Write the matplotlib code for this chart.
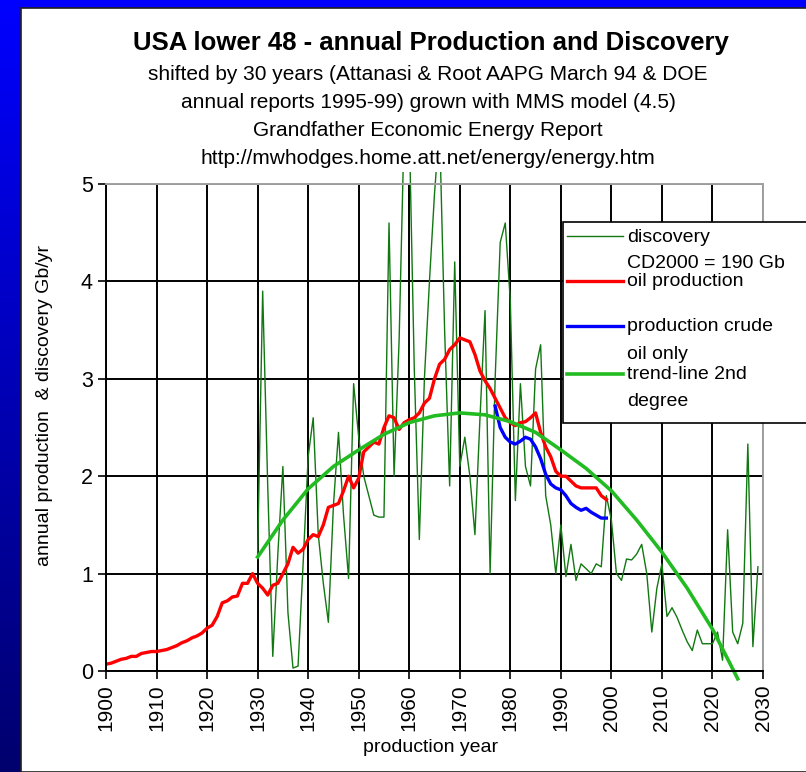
import numpy as np
import matplotlib.pyplot as plt
from matplotlib.patches import Rectangle
from matplotlib.lines import Line2D

plt.rcParams['font.family'] = ['Liberation Sans', 'DejaVu Sans']

# oil production, lower 48, Gb/yr
prod_years = np.arange(1900, 2000)
oil_production = [0.07, 0.08, 0.10, 0.12, 0.13, 0.15, 0.15, 0.18, 0.19, 0.20,
                  0.20, 0.21, 0.22, 0.24, 0.26, 0.29, 0.31, 0.34, 0.36, 0.39,
                  0.44, 0.47, 0.56, 0.70, 0.72, 0.76, 0.77, 0.90, 0.90, 1.00,
                  0.90, 0.85, 0.78, 0.88, 0.90, 1.00, 1.10, 1.27, 1.21, 1.25,
                  1.35, 1.40, 1.38, 1.50, 1.68, 1.70, 1.72, 1.85, 2.00, 1.88,
                  1.98, 2.25, 2.30, 2.35, 2.33, 2.50, 2.62, 2.60, 2.48, 2.55,
                  2.58, 2.60, 2.65, 2.75, 2.80, 3.00, 3.15, 3.20, 3.30, 3.35,
                  3.42, 3.40, 3.38, 3.25, 3.08, 2.98, 2.90, 2.80, 2.70, 2.60,
                  2.55, 2.52, 2.55, 2.56, 2.60, 2.65, 2.45, 2.30, 2.20, 2.05,
                  2.00, 2.00, 1.95, 1.90, 1.88, 1.88, 1.88, 1.88, 1.80, 1.76]

# crude oil only
crude_years = np.arange(1977, 2000)
crude_oil = [2.72, 2.50, 2.40, 2.35, 2.33, 2.36, 2.40, 2.38, 2.30, 2.18,
             2.02, 1.92, 1.88, 1.86, 1.80, 1.72, 1.68, 1.65, 1.67, 1.63,
             1.60, 1.57, 1.57]

# discovery shifted by 30 years
disc_years = np.arange(1930, 2030)
discovery = [1.20, 3.90, 1.90, 0.15, 1.20, 2.10, 0.60, 0.03, 0.05, 1.10,
             2.20, 2.60, 1.40, 0.90, 0.50, 1.70, 2.45, 1.60, 0.95, 2.95,
             2.40, 2.00, 1.80, 1.60, 1.58, 1.58, 4.60, 2.00, 3.40, 5.60,
             5.60, 3.10, 1.35, 3.00, 4.00, 4.90, 5.60, 3.50, 1.90, 4.20,
             2.10, 2.40, 2.00, 1.40, 2.60, 3.70, 1.00, 3.00, 4.40, 4.60,
             3.80, 1.75, 2.95, 2.10, 1.90, 3.10, 3.35, 1.80, 1.50, 1.00,
             1.50, 0.97, 1.30, 0.93, 1.10, 1.05, 1.00, 1.10, 1.07, 1.80,
             1.55, 1.00, 0.93, 1.15, 1.14, 1.20, 1.30, 1.00, 0.40, 0.85,
             1.10, 0.56, 0.65, 0.55, 0.42, 0.30, 0.21, 0.42, 0.28, 0.28,
             0.28, 0.40, 0.11, 1.45, 0.40, 0.28, 0.49, 2.33, 0.25, 1.07]

# 2nd degree trend-line
trend_years = [1930, 1935, 1940, 1945, 1950, 1955, 1960, 1965, 1970, 1975,
               1980, 1985, 1990, 1995, 2000, 2005, 2010, 2015, 2020, 2025]
trend = [1.17, 1.55, 1.87, 2.10, 2.27, 2.43, 2.55, 2.62, 2.65, 2.63,
         2.56, 2.45, 2.27, 2.08, 1.85, 1.55, 1.22, 0.85, 0.43, -0.08]

W, H = 806, 772


def fx(px):
    return px / W


def fy(py):
    return 1 - py / H


fig = plt.figure(figsize=(W / 100, H / 100), dpi=100)

# blue frame with white panel
bg = fig.add_axes([0, 0, 1, 1], zorder=-10)
grad = np.zeros((256, 2, 3))
grad[:, :, 2] = np.linspace(1.0, 0.43, 256)[:, None]
bg.imshow(grad, aspect='auto', extent=[0, 1, 0, 1])
bg.add_patch(Rectangle((fx(21), 0), 1, fy(8), facecolor='white',
                       edgecolor='#202020', linewidth=1.2))
bg.set_xlim(0, 1)
bg.set_ylim(0, 1)
bg.axis('off')

fig.text(fx(431), fy(43), 'USA lower 48 - annual Production and Discovery',
         ha='center', va='center', fontsize=18.5, fontweight='bold')
sub = ['shifted by 30 years (Attanasi & Root AAPG March 94 & DOE',
       'annual reports 1995-99) grown with MMS model (4.5)',
       'Grandfather Economic Energy Report',
       'http://mwhodges.home.att.net/energy/energy.htm']
for s, y in zip(sub, [75, 103, 130, 158]):
    fig.text(fx(428), fy(y), s, ha='center', va='center', fontsize=15)

ax = fig.add_axes([fx(106), fy(671), fx(763) - fx(106), fy(184) - fy(671)])
ax.set_xlim(1900, 2030)
ax.set_ylim(0, 5)
ax.set_xticks(range(1900, 2031, 10))
ax.set_yticks(range(0, 6))
ax.tick_params(axis='x', labelrotation=90, labelsize=15, length=6, width=1.2)
ax.tick_params(axis='y', labelsize=15.5, length=6, width=1.2)
ax.grid(True, color='black', linewidth=1.4)
ax.set_axisbelow(True)
for side in ['left', 'bottom']:
    ax.spines[side].set_linewidth(1.4)
for side in ['top', 'right']:
    ax.spines[side].set_color('#a0a0a0')
    ax.spines[side].set_linewidth(1.4)

clip = Rectangle((0, -0.05), 1, 1.075, transform=ax.transAxes,
                 facecolor='none', edgecolor='none')
ax.add_patch(clip)
disc_line, = ax.plot(disc_years, discovery, color='#117711', linewidth=1.0)
disc_line.set_clip_path(clip)
ax.plot(prod_years, oil_production, color='#ff0000', linewidth=2.4)
ax.plot(crude_years, crude_oil, color='#0000ff', linewidth=2.4)
ax.plot(trend_years, trend, color='#22bb22', linewidth=2.6, clip_on=False)

fig.text(fx(45), fy(405), 'annual production  & discovery Gb/yr',
         rotation=90, ha='center', va='center', fontsize=14)
fig.text(fx(431), fy(748), 'production year', ha='center', va='center',
         fontsize=14)

# legend box, running past the right edge
fig.patches.append(Rectangle((fx(563), fy(423)), fx(820) - fx(563),
                             fy(222) - fy(423), transform=fig.transFigure,
                             facecolor='white', edgecolor='black',
                             linewidth=1.2, zorder=5))
entries = [('#117711', 1.0, 236, ['discovery', 'CD2000 = 190 Gb']),
           ('#ff0000', 2.4, 281, ['oil production']),
           ('#0000ff', 2.4, 326, ['production crude', 'oil only']),
           ('#22bb22', 2.6, 374, ['trend-line 2nd', 'degree'])]
for col, lw, y, lines in entries:
    fig.lines.append(Line2D([fx(567), fx(623)], [fy(y), fy(y)], color=col,
                            linewidth=lw, transform=fig.transFigure,
                            zorder=6))
    for i, t in enumerate(lines):
        fig.text(fx(627), fy(y + 1 + i * 27), t, ha='left', va='center',
                 fontsize=14, zorder=6)

fig.savefig('out.png', dpi=100)
